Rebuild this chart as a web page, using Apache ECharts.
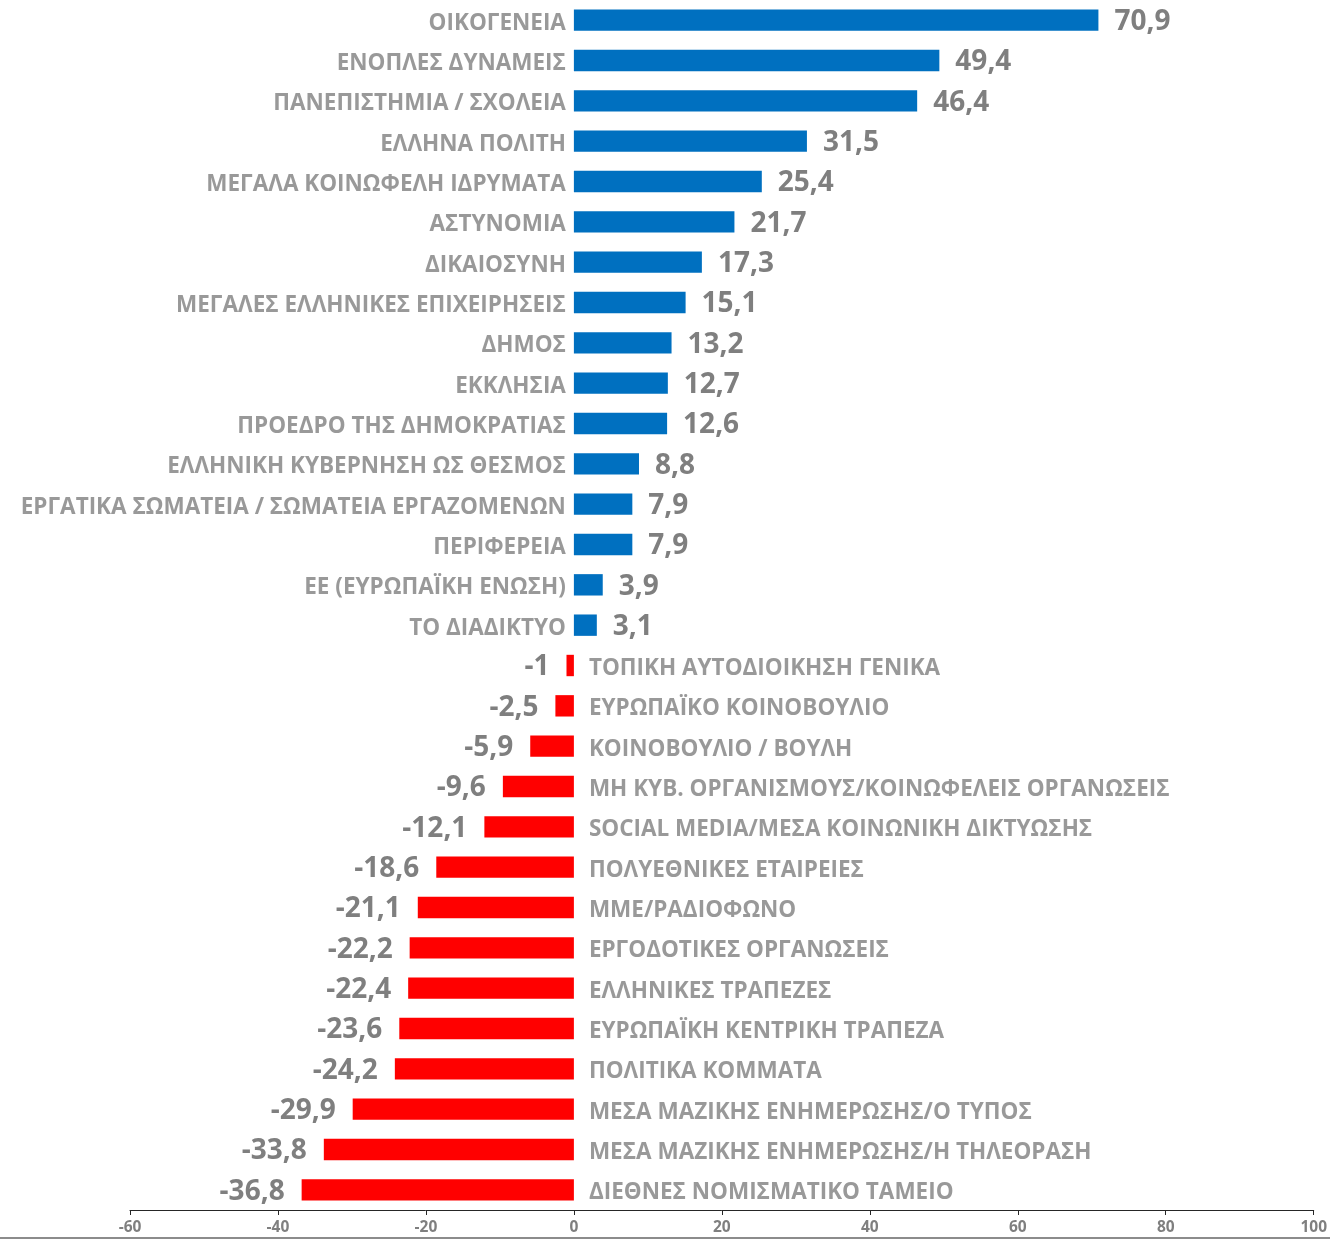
<!DOCTYPE html>
<html>
<head>
<meta charset="utf-8">
<script src="https://cdn.jsdelivr.net/npm/echarts@6/dist/echarts.min.js"></script>
<style>
  html, body { margin: 0; padding: 0; background: #fff; }
  #chart { width: 1330px; height: 1239px; }
</style>
</head>
<body>
<div id="chart"></div>
<script>
var categories = [
    'ΟΙΚΟΓΕΝΕΙΑ', 'ΕΝΟΠΛΕΣ ΔΥΝΑΜΕΙΣ', 'ΠΑΝΕΠΙΣΤΗΜΙΑ / ΣΧΟΛΕΙΑ', 'ΕΛΛΗΝΑ ΠΟΛΙΤΗ',
    'ΜΕΓΑΛΑ ΚΟΙΝΩΦΕΛΗ ΙΔΡΥΜΑΤΑ', 'ΑΣΤΥΝΟΜΙΑ', 'ΔΙΚΑΙΟΣΥΝΗ', 'ΜΕΓΑΛΕΣ ΕΛΛΗΝΙΚΕΣ ΕΠΙΧΕΙΡΗΣΕΙΣ',
    'ΔΗΜΟΣ', 'ΕΚΚΛΗΣΙΑ', 'ΠΡΟΕΔΡΟ ΤΗΣ ΔΗΜΟΚΡΑΤΙΑΣ', 'ΕΛΛΗΝΙΚΗ ΚΥΒΕΡΝΗΣΗ ΩΣ ΘΕΣΜΟΣ',
    'ΕΡΓΑΤΙΚΑ ΣΩΜΑΤΕΙΑ / ΣΩΜΑΤΕΙΑ ΕΡΓΑΖΟΜΕΝΩΝ', 'ΠΕΡΙΦΕΡΕΙΑ', 'ΕΕ (ΕΥΡΩΠΑΪΚΗ ΕΝΩΣΗ)', 'ΤΟ ΔΙΑΔΙΚΤΥΟ',
    'ΤΟΠΙΚΗ ΑΥΤΟΔΙΟΙΚΗΣΗ ΓΕΝΙΚΑ', 'ΕΥΡΩΠΑΪΚΟ ΚΟΙΝΟΒΟΥΛΙΟ', 'ΚΟΙΝΟΒΟΥΛΙΟ / ΒΟΥΛΗ',
    'ΜΗ ΚΥΒ. ΟΡΓΑΝΙΣΜΟΥΣ/ΚΟΙΝΩΦΕΛΕΙΣ ΟΡΓΑΝΩΣΕΙΣ', 'SOCIAL MEDIA/ΜΕΣΑ ΚΟΙΝΩΝΙΚΗ ΔΙΚΤΥΩΣΗΣ',
    'ΠΟΛΥΕΘΝΙΚΕΣ ΕΤΑΙΡΕΙΕΣ', 'ΜΜΕ/ΡΑΔΙΟΦΩΝΟ', 'ΕΡΓΟΔΟΤΙΚΕΣ ΟΡΓΑΝΩΣΕΙΣ', 'ΕΛΛΗΝΙΚΕΣ ΤΡΑΠΕΖΕΣ',
    'ΕΥΡΩΠΑΪΚΗ ΚΕΝΤΡΙΚΗ ΤΡΑΠΕΖΑ', 'ΠΟΛΙΤΙΚΑ ΚΟΜΜΑΤΑ', 'ΜΕΣΑ ΜΑΖΙΚΗΣ ΕΝΗΜΕΡΩΣΗΣ/Ο ΤΥΠΟΣ',
    'ΜΕΣΑ ΜΑΖΙΚΗΣ ΕΝΗΜΕΡΩΣΗΣ/Η ΤΗΛΕΟΡΑΣΗ', 'ΔΙΕΘΝΕΣ ΝΟΜΙΣΜΑΤΙΚΟ ΤΑΜΕΙΟ'
];
var values = [
    70.9, 49.4, 46.4, 31.5, 25.4, 21.7, 17.3, 15.1, 13.2, 12.7, 12.6, 8.8, 7.9, 7.9, 3.9, 3.1,
    -1, -2.5, -5.9, -9.6, -12.1, -18.6, -21.1, -22.2, -22.4, -23.6, -24.2, -29.9, -33.8, -36.8
];
var xTicks = { min: -60, max: 100, interval: 20 };

var grey = '#7f7f7f';
var font = '"Open Sans", "Noto Sans", sans-serif';

function fmt(v) {
    return String(v).replace('.', ',');
}

var barData = values.map(function (v) {
    return {
        value: v,
        itemStyle: { color: v >= 0 ? '#0070c0' : '#ff0000' },
        label: { position: v >= 0 ? 'right' : 'left', distance: v >= 0 ? 16 : 17 }
    };
});

var nameData = categories.map(function (c, i) {
    var pos = values[i] >= 0;
    return {
        value: [0, c],
        label: { position: pos ? 'left' : 'right', distance: pos ? 8 : 15 }
    };
});

var chart = echarts.init(document.getElementById('chart'));
chart.setOption({
    backgroundColor: '#ffffff',
    animation: false,
    grid: { left: 130, right: 15, top: -3.7, bottom: 29 },
    xAxis: {
        type: 'value',
        min: xTicks.min,
        max: xTicks.max,
        interval: xTicks.interval,
        splitLine: { show: false },
        axisLine: { show: true, lineStyle: { color: '#262626', width: 1 } },
        axisTick: { show: true, length: 5, lineStyle: { color: '#262626' } },
        axisLabel: { color: grey, fontWeight: 'bold', fontSize: 15.5, fontFamily: font, margin: 10 }
    },
    yAxis: {
        type: 'category',
        data: categories,
        inverse: true,
        axisLine: { show: false },
        axisTick: { show: false },
        axisLabel: { show: false }
    },
    graphic: [{
        type: 'rect',
        shape: { x: 0, y: 1237, width: 1330, height: 2 },
        style: { fill: '#8c8c8c' }
    }],
    series: [{
        type: 'bar',
        data: barData,
        barCategoryGap: '47%',
        label: {
            show: true,
            color: grey,
            fontWeight: 'bold',
            fontSize: 28,
            fontFamily: font,
            offset: [0, 2],
            formatter: function (p) { return fmt(p.value); }
        }
    }, {
        type: 'scatter',
        data: nameData,
        symbolSize: 0,
        silent: true,
        label: {
            show: true,
            color: grey,
            fontWeight: 'bold',
            fontSize: 22.5,
            fontFamily: font,
            offset: [0, 3],
            formatter: function (p) { return p.value[1]; }
        }
    }]
});
</script>
</body>
</html>
